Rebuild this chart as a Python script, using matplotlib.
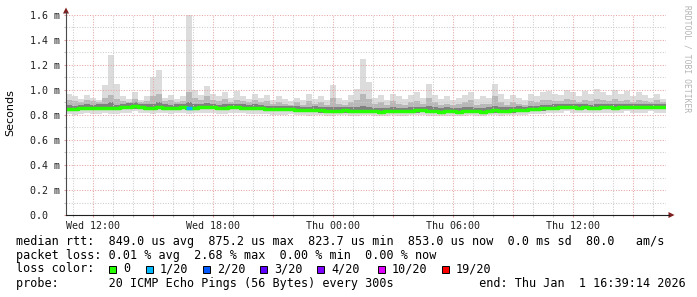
import numpy as np
import pandas as pd
import matplotlib
matplotlib.use('Agg')
import matplotlib.pyplot as plt
import matplotlib.dates as mdates
from matplotlib.ticker import MultipleLocator, FuncFormatter
from matplotlib.patches import Rectangle, Polygon

# 30 horas en pasos de 18 min (100 pasos)
start = pd.Timestamp('2025-12-31 10:39:14')
times = pd.date_range(start, periods=101, freq='18min')

# valores en ms
median = [0.850, 0.848, 0.852, 0.855, 0.853, 0.856, 0.858, 0.855, 0.852, 0.860, 0.865, 0.868, 0.862, 0.858, 0.855, 0.860,
          0.857, 0.855, 0.858, 0.860, 0.856, 0.858, 0.862, 0.865, 0.860, 0.857, 0.855, 0.860, 0.862, 0.858, 0.854, 0.856,
          0.852, 0.850, 0.848, 0.846, 0.845, 0.848, 0.843, 0.840, 0.838, 0.842, 0.836, 0.832, 0.830, 0.834, 0.836, 0.832,
          0.830, 0.835, 0.833, 0.830, 0.826, 0.828, 0.834, 0.830, 0.828, 0.832, 0.836, 0.840, 0.835, 0.830, 0.826, 0.832,
          0.828, 0.825, 0.830, 0.834, 0.828, 0.826, 0.832, 0.836, 0.830, 0.834, 0.838, 0.842, 0.840, 0.845, 0.848, 0.852,
          0.855, 0.858, 0.862, 0.865, 0.860, 0.857, 0.860, 0.855, 0.858, 0.862, 0.860, 0.858, 0.862, 0.865, 0.863, 0.860,
          0.862, 0.865, 0.860, 0.862]
ping_max = [0.97, 0.95, 0.93, 0.96, 0.94, 0.92, 1.04, 1.28, 1.05, 0.95, 0.93, 0.98, 0.92, 0.95, 1.10, 1.16,
            0.94, 0.96, 0.93, 0.95, 1.60, 1.00, 0.96, 1.03, 0.97, 0.95, 0.98, 0.94, 0.99, 0.95, 0.93, 0.97,
            0.94, 0.96, 0.92, 0.95, 0.93, 0.91, 0.94, 0.92, 0.97, 0.93, 0.95, 0.92, 1.04, 0.94, 0.92, 0.96,
            1.01, 1.25, 1.06, 0.94, 0.96, 0.92, 0.97, 0.95, 0.93, 0.96, 0.98, 0.94, 1.05, 0.96, 0.93, 0.95,
            0.92, 0.94, 0.96, 0.98, 0.93, 0.95, 0.94, 1.05, 0.97, 0.93, 0.96, 0.94, 0.92, 0.97, 0.95, 0.98,
            0.99, 0.97, 0.96, 1.00, 0.98, 0.95, 0.99, 0.97, 1.01, 0.98, 0.96, 1.00, 0.97, 0.99, 0.95, 0.98,
            0.96, 0.94, 0.97, 0.93]
ping_p90 = [0.92, 0.91, 0.90, 0.92, 0.91, 0.90, 0.94, 0.96, 0.93, 0.91, 0.90, 0.93, 0.90, 0.91, 0.95, 0.97,
            0.91, 0.92, 0.90, 0.91, 0.98, 0.94, 0.92, 0.95, 0.92, 0.91, 0.93, 0.90, 0.92, 0.91, 0.90, 0.92,
            0.90, 0.91, 0.89, 0.90, 0.89, 0.88, 0.90, 0.88, 0.91, 0.89, 0.90, 0.88, 0.94, 0.89, 0.88, 0.90,
            0.92, 0.97, 0.93, 0.89, 0.90, 0.88, 0.91, 0.89, 0.88, 0.90, 0.91, 0.89, 0.94, 0.90, 0.88, 0.89,
            0.88, 0.89, 0.90, 0.92, 0.88, 0.89, 0.89, 0.95, 0.90, 0.88, 0.90, 0.89, 0.88, 0.91, 0.90, 0.92,
            0.92, 0.91, 0.91, 0.93, 0.92, 0.90, 0.92, 0.91, 0.93, 0.92, 0.91, 0.93, 0.91, 0.92, 0.90, 0.92,
            0.91, 0.90, 0.92, 0.90]
ping_p75 = [0.880, 0.875, 0.880, 0.885, 0.880, 0.885, 0.890, 0.900, 0.880, 0.890, 0.895, 0.900, 0.890, 0.885, 0.890, 0.900,
            0.885, 0.880, 0.885, 0.890, 0.900, 0.890, 0.890, 0.895, 0.885, 0.880, 0.885, 0.890, 0.890, 0.885, 0.880, 0.885,
            0.880, 0.875, 0.875, 0.870, 0.870, 0.875, 0.870, 0.865, 0.865, 0.870, 0.860, 0.860, 0.865, 0.860, 0.865, 0.860,
            0.860, 0.870, 0.865, 0.855, 0.855, 0.855, 0.860, 0.855, 0.855, 0.860, 0.865, 0.865, 0.870, 0.860, 0.855, 0.860,
            0.855, 0.855, 0.860, 0.865, 0.855, 0.855, 0.860, 0.870, 0.860, 0.860, 0.865, 0.870, 0.865, 0.870, 0.875, 0.880,
            0.880, 0.885, 0.890, 0.890, 0.885, 0.885, 0.885, 0.880, 0.885, 0.890, 0.885, 0.885, 0.890, 0.890, 0.890, 0.885,
            0.890, 0.890, 0.885, 0.890]
ping_p25 = [0.835, 0.835, 0.840, 0.840, 0.840, 0.840, 0.845, 0.840, 0.840, 0.845, 0.850, 0.850, 0.845, 0.845, 0.840, 0.845,
            0.845, 0.840, 0.845, 0.845, 0.840, 0.845, 0.845, 0.850, 0.845, 0.840, 0.840, 0.845, 0.845, 0.845, 0.840, 0.840,
            0.840, 0.835, 0.835, 0.830, 0.830, 0.835, 0.830, 0.825, 0.825, 0.830, 0.820, 0.820, 0.815, 0.820, 0.820, 0.820,
            0.815, 0.820, 0.820, 0.815, 0.810, 0.815, 0.820, 0.815, 0.815, 0.820, 0.820, 0.825, 0.820, 0.815, 0.810, 0.815,
            0.815, 0.810, 0.815, 0.820, 0.815, 0.810, 0.820, 0.820, 0.815, 0.820, 0.820, 0.825, 0.825, 0.830, 0.835, 0.835,
            0.840, 0.840, 0.845, 0.850, 0.845, 0.840, 0.845, 0.840, 0.845, 0.845, 0.845, 0.840, 0.845, 0.850, 0.845, 0.845,
            0.845, 0.850, 0.845, 0.845]
ping_min = [0.81, 0.80, 0.81, 0.82, 0.81, 0.81, 0.82, 0.81, 0.81, 0.82, 0.82, 0.83, 0.82, 0.82, 0.81, 0.82,
            0.82, 0.81, 0.82, 0.82, 0.81, 0.82, 0.82, 0.82, 0.82, 0.81, 0.81, 0.82, 0.82, 0.82, 0.81, 0.81,
            0.81, 0.81, 0.80, 0.80, 0.80, 0.81, 0.80, 0.80, 0.79, 0.80, 0.80, 0.79, 0.79, 0.80, 0.80, 0.79,
            0.79, 0.80, 0.80, 0.79, 0.79, 0.79, 0.80, 0.79, 0.79, 0.80, 0.80, 0.80, 0.79, 0.79, 0.79, 0.79,
            0.79, 0.79, 0.79, 0.80, 0.79, 0.79, 0.80, 0.80, 0.79, 0.80, 0.80, 0.80, 0.80, 0.81, 0.81, 0.81,
            0.82, 0.82, 0.82, 0.83, 0.82, 0.82, 0.82, 0.82, 0.82, 0.82, 0.82, 0.82, 0.82, 0.83, 0.82, 0.82,
            0.82, 0.83, 0.82, 0.82]
# pasos con pérdida de paquetes (índice, pings perdidos de 20)
loss_idx = [20]
loss_val = [1]

loss_labels = ['0', '1/20', '2/20', '3/20', '4/20', '10/20', '19/20']
loss_levels = [0, 1, 2, 3, 4, 10, 19]
loss_colors = ['#26ff00', '#00b8ff', '#0059ff', '#5e00ff', '#7e00ff', '#dd00ff', '#ff0000']

legend_lines = [
    'median rtt:  849.0 us avg  875.2 us max  823.7 us min  853.0 us now  0.0 ms sd  80.0   am/s',
    'packet loss: 0.01 % avg  2.68 % max  0.00 % min  0.00 % now',
    'loss color:',
    'probe:       20 ICMP Echo Pings (56 Bytes) every 300s            end: Thu Jan  1 16:39:14 2026',
]

W, H = 697, 297
fig = plt.figure(figsize=(W / 100, H / 100), dpi=100, facecolor='white')
ax = fig.add_axes([66 / W, (H - 215) / H, 600 / W, 200 / H])
ax.set_facecolor('white')


def ext(v):
    v = list(v)
    return v + [v[-1]]


# humo
ax.fill_between(times, ext(ping_min), ext(ping_max), step='post', color='#dcdcdc', lw=0)
ax.fill_between(times, ext(ping_p25), ext(ping_p90), step='post', color='#b8b8b8', lw=0)
ax.fill_between(times, ext(ping_p25), ext(ping_p75), step='post', color='#808080', lw=0)

# mediana coloreada según la pérdida
ax.step(times, ext(median), where='post', color=loss_colors[0], lw=2.5, solid_capstyle='butt', zorder=4)
for i, l in zip(loss_idx, loss_val):
    c = loss_colors[max(k for k, lv in enumerate(loss_levels) if lv <= l)]
    ax.plot([times[i], times[i + 1]], [median[i], median[i]], color=c, lw=2.5, solid_capstyle='butt', zorder=5)

ax.set_xlim(times[0], times[-1])
ax.set_ylim(0, 1.6)

# rejilla
ax.xaxis.set_major_locator(mdates.HourLocator(byhour=range(0, 24, 3)))
ax.xaxis.set_minor_locator(mdates.HourLocator())
ax.xaxis.set_major_formatter(FuncFormatter(
    lambda x, pos: mdates.num2date(x).strftime('%a %H:%M') if mdates.num2date(x).hour % 6 == 0 else ''))
ax.yaxis.set_major_locator(MultipleLocator(0.2))
ax.yaxis.set_minor_locator(MultipleLocator(0.1))
ax.yaxis.set_major_formatter(FuncFormatter(lambda y, pos: '0.0  ' if abs(y) < 1e-9 else '%.1f m' % y))

ax.grid(which='major', color='#e8a4a4', lw=0.75, ls=(0, (1, 1.5)), zorder=3)
ax.grid(which='minor', color='#cccccc', lw=0.75, ls=(0, (1, 1.5)), zorder=3)
ax.set_axisbelow(False)
for s in ax.spines.values():
    s.set_visible(False)
ax.tick_params(which='both', length=1.5, width=0.75, pad=3, labelsize=7.2, labelcolor='#202020')
ax.tick_params(which='major', color='#e49a9a')
ax.tick_params(which='minor', color='#c4c4c4')
for t in ax.get_xticklabels() + ax.get_yticklabels():
    t.set_family('DejaVu Sans Mono')

# capa en píxeles para ejes, flechas y leyenda
ov = fig.add_axes([0, 0, 1, 1], facecolor='none')
ov.set_xlim(0, W)
ov.set_ylim(H, 0)
ov.axis('off')
ov.plot([66, 66], [215, 12], color='#4a4a4a', lw=0.8)
ov.plot([66, 669], [215, 215], color='#1f1f1f', lw=0.8)
ov.add_patch(Polygon([[63, 13.5], [69, 13.5], [66, 7.5]], closed=True, color='#801f1f', lw=0))
ov.add_patch(Polygon([[668.5, 212], [668.5, 218], [674.5, 215]], closed=True, color='#801f1f', lw=0))

ov.text(10, 113, 'Seconds', rotation=90, ha='center', va='center', fontsize=8, family='DejaVu Sans')
ov.text(687, 5, 'RRDTOOL / TOBI OETIKER', rotation=-90, ha='center', va='top',
        fontsize=5.8, family='DejaVu Sans Mono', color='#b4b4b4')

mono = dict(family='DejaVu Sans Mono', fontsize=8.45, va='center', ha='left', color='black')
for k, line in enumerate(legend_lines):
    ov.text(16, 241 + 14 * k, line, **mono)

box_x = [109, 146, 203, 260, 317, 378, 442]
for bx, lab, col in zip(box_x, loss_labels, loss_colors):
    ov.add_patch(Rectangle((bx, 265.5), 7, 7, facecolor=col, edgecolor='black', lw=0.7))
    ov.text(bx + 14, 269, lab, **mono)

fig.savefig('out.png', dpi=100, facecolor='white')
